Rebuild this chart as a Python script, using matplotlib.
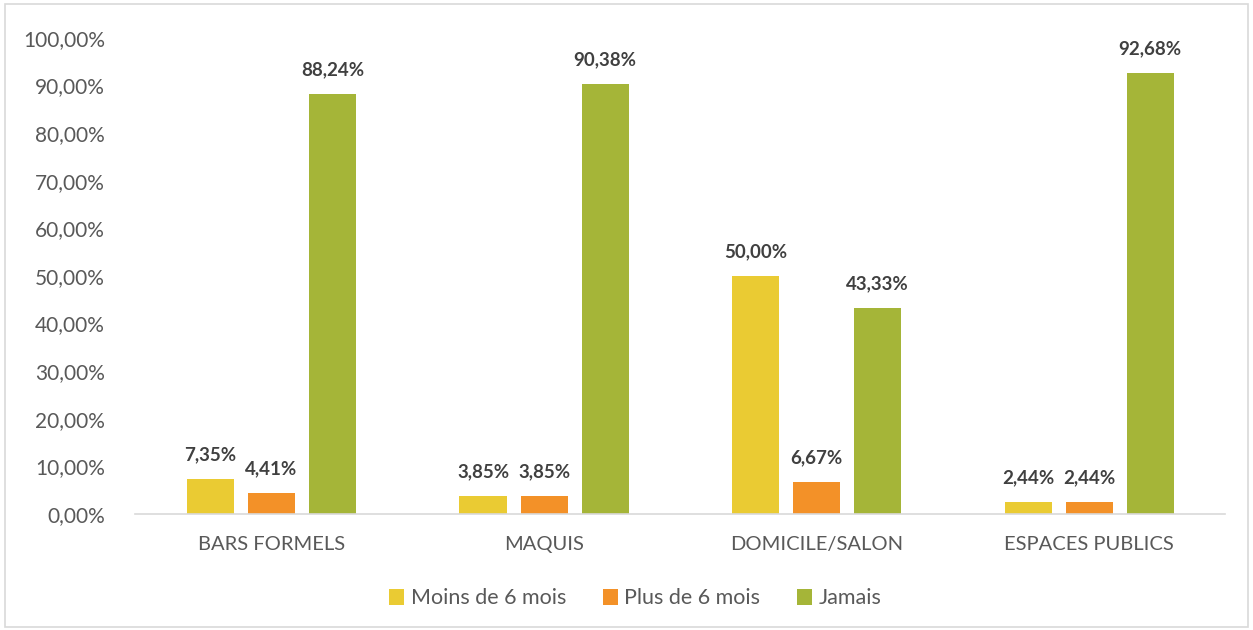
import matplotlib
matplotlib.use("Agg")
import matplotlib.pyplot as plt
from matplotlib.patches import Rectangle
import numpy as np

categories = ["BARS FORMELS", "MAQUIS", "DOMICILE/SALON", "ESPACES PUBLICS"]
series_names = ["Moins de 6 mois", "Plus de 6 mois", "Jamais"]
moins_6_mois = [7.35, 3.85, 50.00, 2.44]
plus_6_mois = [4.41, 3.85, 6.67, 2.44]
jamais = [88.24, 90.38, 43.33, 92.68]
colors = ["#EACB33", "#F39128", "#A5B538"]

plt.rcParams['font.family'] = ['Lato', 'DejaVu Sans']

fig = plt.figure(figsize=(12.53, 6.3), dpi=100)
ax = fig.add_axes([0.108, 0.184, 0.870, 0.756])

# light border round the whole chart
fig.patches.append(Rectangle((0.004, 0.004), 0.992, 0.99, transform=fig.transFigure,
                             fill=False, edgecolor="#D9D9D9", linewidth=1.2))

x = np.arange(len(categories))
width = 0.173
step = 0.224
for i, (vals, name) in enumerate(zip([moins_6_mois, plus_6_mois, jamais], series_names)):
    pos = x + (i - 1) * step
    bars = ax.bar(pos, vals, width, color=colors[i], label=name)
    for b, v in zip(bars, vals):
        ax.text(b.get_x() + b.get_width() / 2, v + 3.3, f"{v:.2f}%".replace(".", ","),
                ha="center", va="bottom", fontsize=13.5, fontweight="bold", color="#404040")

ax.set_xlim(-0.5, len(categories) - 0.5)
ax.set_ylim(0, 100)
ax.set_yticks(np.arange(0, 101, 10))
ax.set_yticklabels([f"{v},00%" for v in range(0, 101, 10)])
ax.set_xticks(x)
ax.set_xticklabels(categories)
ax.tick_params(axis="y", length=0, labelsize=15, labelcolor="#595959", pad=22)
ax.tick_params(axis="x", length=0, labelsize=14.5, labelcolor="#595959", pad=16)
for s in ["top", "right", "left"]:
    ax.spines[s].set_visible(False)
ax.spines["bottom"].set_color("#D9D9D9")
ax.spines["bottom"].set_linewidth(1.2)

handles, labels = ax.get_legend_handles_labels()
leg = fig.legend(handles, labels, loc="center", bbox_to_anchor=(0.507, 0.05), ncol=3,
                 frameon=False, fontsize=15.5, handlelength=0.7, handleheight=0.7,
                 handletextpad=0.3, columnspacing=1.7)
for t in leg.get_texts():
    t.set_color("#595959")

fig.savefig("out.png", dpi=100)
